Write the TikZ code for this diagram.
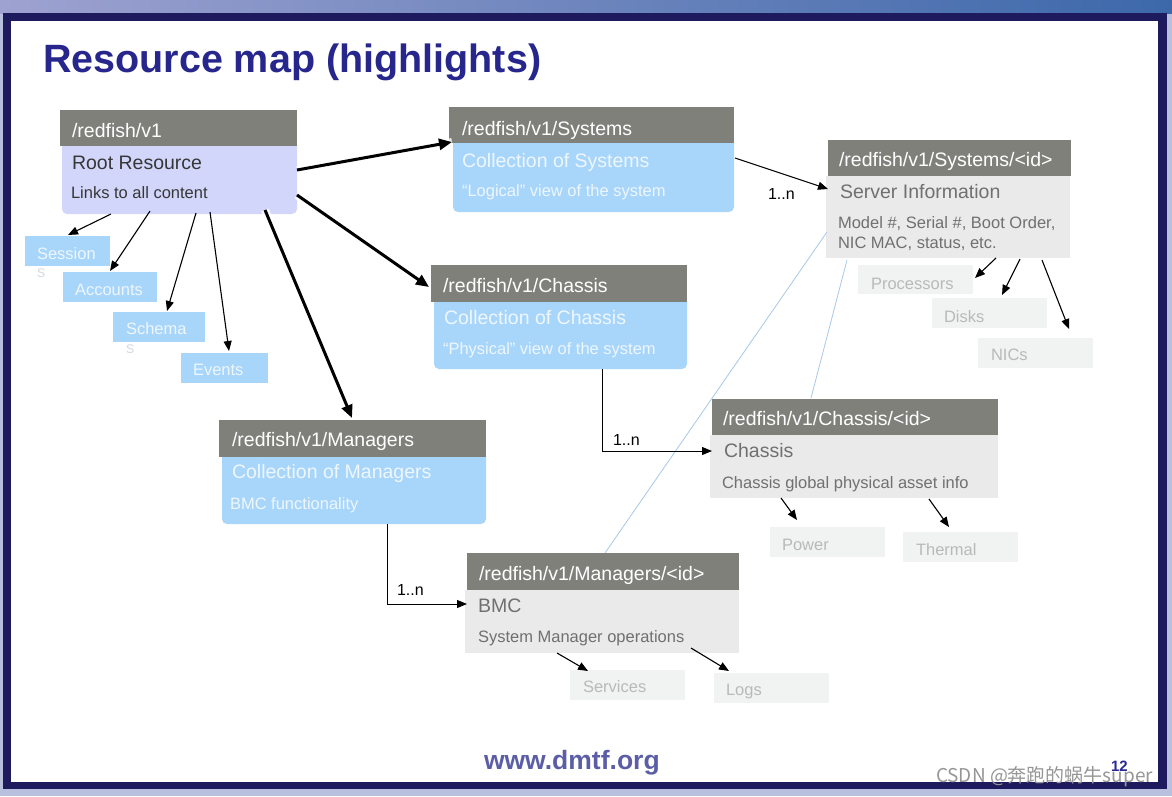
\documentclass[tikz,border=0pt]{standalone}
\usepackage{fontspec}
\setmainfont{Liberation Sans}
\newfontfamily\cjkfont{Noto Sans CJK SC}
\usetikzlibrary{arrows.meta}
\definecolor{hdrgrey}{RGB}{128,128,123}
\definecolor{lav}{RGB}{210,214,250}
\definecolor{lblue}{RGB}{168,214,251}
\definecolor{gbody}{RGB}{234,234,234}
\definecolor{gtext}{RGB}{112,112,112}
\definecolor{sbox}{RGB}{241,242,242}
\definecolor{stext}{RGB}{185,185,185}
\definecolor{navy}{RGB}{30,26,94}
\definecolor{titleblue}{RGB}{38,38,140}
\definecolor{dmtf}{RGB}{91,94,166}
\definecolor{linkblue}{RGB}{168,200,232}
\definecolor{roottext}{RGB}{55,55,55}
\definecolor{bluetext}{RGB}{238,246,254}
\definecolor{ghost}{RGB}{215,222,230}
\definecolor{bandL}{RGB}{158,162,208}
\definecolor{bandR}{RGB}{60,104,170}
\definecolor{bottomband}{RGB}{184,192,222}
\definecolor{pagenum}{RGB}{40,40,150}
\definecolor{wmark}{RGB}{150,150,150}
\newcommand\fHdr{\fontsize{19.5}{22}\selectfont}
\newcommand\fSmall{\fontsize{16.5}{19}\selectfont}
\newcommand\fLbl{\fontsize{16}{18}\selectfont}
\tikzset{
  hdr/.style={fill=hdrgrey, anchor=north west, inner sep=0pt, outer sep=0pt},
  blubody/.style={fill=lblue, rounded corners=5pt, anchor=north west, inner sep=0pt, outer sep=0pt},
  lavbody/.style={fill=lav, rounded corners=5pt, anchor=north west, inner sep=0pt, outer sep=0pt},
  grybody/.style={fill=gbody, anchor=north west, inner sep=0pt, outer sep=0pt},
  bluebox/.style={fill=lblue, anchor=north west, inner sep=0pt, outer sep=0pt},
  greybox/.style={fill=sbox, anchor=north west, inner sep=0pt, outer sep=0pt},
  txt/.style={anchor=base west, inner sep=0pt, outer sep=0pt},
  hdrtxt/.style={txt, text=white, font=\fHdr},
  bigarr/.style={line width=3pt, -{Triangle[length=13pt,width=11pt]},
     preaction={draw=white, line width=8pt, opacity=0.8, -}},
  thinarr/.style={line width=1.1pt, -{Triangle[length=10pt,width=8pt]}},
  linkarr/.style={line width=1pt, -{Triangle[length=10pt,width=8pt]}},
  faint/.style={draw=linkblue, line width=0.8pt}
}
\begin{document}
\begin{tikzpicture}[x=1pt,y=-1pt]
\useasboundingbox (0,0) rectangle (1172,796);
% background and frame
\fill[bottomband] (0,0) rectangle (1172,796);
\shade[left color=bandL, right color=bandR] (0,0) rectangle (1172,13);
\fill[navy] (3,13) rectangle (1167,789);
\fill[white] (11,21) rectangle (1158,782);

% title
\node[txt, text=titleblue, font=\bfseries\fontsize{39.5}{44}\selectfont] (title) at (43,72) {Resource map (highlights)};

% root card
\node[lavbody, minimum width=235pt, minimum height=74pt] (rootB) at (62,140) {};
\node[hdr, minimum width=237pt, minimum height=36pt] (rootH) at (60,110) {};
\node[hdrtxt] (rootT1) at (72,137) {/redfish/v1};
\node[txt, text=roottext, font=\fHdr] (rootT2) at (72,169) {Root Resource};
\node[txt, text=roottext, font=\fSmall] (rootT3) at (71,198) {Links to all content};

% systems card
\node[blubody, minimum width=281pt, minimum height=75pt] (sysB) at (453,137) {};
\node[hdr, minimum width=285pt, minimum height=36pt] (sysH) at (449,107) {};
\node[hdrtxt] (sysT1) at (462,135) {/redfish/v1/Systems};
\node[txt, text=bluetext, font=\fHdr] (sysT2) at (462,167) {Collection of Systems};
\node[txt, text=bluetext, font=\fSmall] (sysT3) at (462,196) {“Logical” view of the system};

% chassis card
\node[blubody, minimum width=253pt, minimum height=73pt] (chaB) at (434,296) {};
\node[hdr, minimum width=256pt, minimum height=37pt] (chaH) at (431,265) {};
\node[hdrtxt] (chaT1) at (443,292) {/redfish/v1/Chassis};
\node[txt, text=bluetext, font=\fHdr] (chaT2) at (444,324) {Collection of Chassis};
\node[txt, text=bluetext, font=\fSmall] (chaT3) at (443,354) {“Physical” view of the system};

% managers card
\node[blubody, minimum width=264pt, minimum height=73pt] (manB) at (222,451) {};
\node[hdr, minimum width=267pt, minimum height=37pt] (manH) at (219,420) {};
\node[hdrtxt] (manT1) at (232,446) {/redfish/v1/Managers};
\node[txt, text=bluetext, font=\fHdr] (manT2) at (232,478) {Collection of Managers};
\node[txt, text=bluetext, font=\fSmall] (manT3) at (230,509) {BMC functionality};

% systems/<id> card
\node[grybody, minimum width=244pt, minimum height=82pt] (sidB) at (826,176) {};
\node[hdr, minimum width=243pt, minimum height=36pt] (sidH) at (828,140) {};
\node[hdrtxt] (sidT1) at (839,166) {/redfish/v1/Systems/<id>};
\node[txt, text=gtext, font=\fHdr] (sidT2) at (840,198) {Server Information};
\node[txt, text=gtext, font=\fSmall] (sidT3) at (838,228) {Model \#, Serial \#, Boot Order,};
\node[txt, text=gtext, font=\fSmall] (sidT4) at (838,248) {NIC MAC, status, etc.};

% chassis/<id> card
\node[grybody, minimum width=288pt, minimum height=63pt] (cidB) at (710,435) {};
\node[hdr, minimum width=286pt, minimum height=36pt] (cidH) at (712,399) {};
\node[hdrtxt] (cidT1) at (723,425) {/redfish/v1/Chassis/<id>};
\node[txt, text=gtext, font=\fHdr] (cidT2) at (724,457) {Chassis};
\node[txt, text=gtext, font=\fSmall] (cidT3) at (722,488) {Chassis global physical asset info};

% managers/<id> card
\node[grybody, minimum width=274pt, minimum height=63pt] (midB) at (465,590) {};
\node[hdr, minimum width=272pt, minimum height=37pt] (midH) at (467,553) {};
\node[hdrtxt] (midT1) at (479,580) {/redfish/v1/Managers/<id>};
\node[txt, text=gtext, font=\fHdr] (midT2) at (478,612) {BMC};
\node[txt, text=gtext, font=\fSmall] (midT3) at (478,642) {System Manager operations};

% small blue boxes
\node[bluebox, minimum width=85pt, minimum height=30pt] (sess) at (25,236) {};
\node[txt, text=bluetext, font=\fSmall] (sessT) at (37,259) {Session};
\node[txt, text=ghost, font=\fSmall] (sessS) at (37,277) {s};
\node[bluebox, minimum width=94pt, minimum height=30pt] (acct) at (63,272) {};
\node[txt, text=bluetext, font=\fSmall] (acctT) at (75,295) {Accounts};
\node[bluebox, minimum width=92pt, minimum height=30pt] (schema) at (113,312) {};
\node[txt, text=bluetext, font=\fSmall] (schemaT) at (126,334) {Schema};
\node[txt, text=ghost, font=\fSmall] (schemaS) at (126,353) {s};
\node[bluebox, minimum width=87pt, minimum height=30pt] (events) at (181,353) {};
\node[txt, text=bluetext, font=\fSmall] (eventsT) at (193,375) {Events};

% small grey boxes
\node[greybox, minimum width=115pt, minimum height=29pt] (proc) at (858,265) {};
\node[txt, text=stext, font=\fSmall] (procT) at (871,289) {Processors};
\node[greybox, minimum width=115pt, minimum height=30pt] (disks) at (932,298) {};
\node[txt, text=stext, font=\fSmall] (disksT) at (944,322) {Disks};
\node[greybox, minimum width=115pt, minimum height=30pt] (nics) at (978,338) {};
\node[txt, text=stext, font=\fSmall] (nicsT) at (991,360) {NICs};
\node[greybox, minimum width=115pt, minimum height=30pt] (power) at (770,527) {};
\node[txt, text=stext, font=\fSmall] (powerT) at (782,550) {Power};
\node[greybox, minimum width=115pt, minimum height=30pt] (thermal) at (903,532) {};
\node[txt, text=stext, font=\fSmall] (thermalT) at (916,555) {Thermal};
\node[greybox, minimum width=115pt, minimum height=30pt] (services) at (570,670) {};
\node[txt, text=stext, font=\fSmall] (servicesT) at (583,692) {Services};
\node[greybox, minimum width=115pt, minimum height=30pt] (logs) at (714,673) {};
\node[txt, text=stext, font=\fSmall] (logsT) at (726,695) {Logs};

% faint link lines
\draw[faint] ([shift={(1,56)}]sidB.north west) -- ([shift={(138,0)}]midH.north west);
\draw[faint] ([shift={(21,84)}]sidB.north west) -- ([shift={(99,-1)}]cidH.north west);

% thick arrows from root
\draw[bigarr] ([shift={(0,30)}]rootB.north east) -- ([shift={(-1,5)}]sysB.north west);
\draw[bigarr] ([shift={(0,55)}]rootB.north east) -- ([shift={(-2,22)}]chaH.north west);
\draw[bigarr] ([shift={(203,70)}]rootB.north west) -- ([shift={(133,-2)}]manH.north west);

% thin arrows from root
\draw[thinarr] ([shift={(49,74)}]rootB.north west) -- ([shift={(43,-1)}]sess.north west);
\draw[thinarr] ([shift={(88,71)}]rootB.north west) -- ([shift={(47,-1)}]acct.north west);
\draw[thinarr] ([shift={(134,73)}]rootB.north west) -- ([shift={(54,-1)}]schema.north west);
\draw[thinarr] ([shift={(148,72)}]rootB.north west) -- ([shift={(48,-2)}]events.north west);

% 1..n links
\draw[linkarr] ([shift={(282,21)}]sysB.north west) -- ([shift={(2,13)}]sidB.north west);
\node[txt, font=\fLbl] (lbl1) at (768,199) {1..n};
\draw[linkarr] ([shift={(168,73)}]chaB.north west) |- ([shift={(2,16)}]cidB.north west);
\node[txt, font=\fLbl] (lbl2) at (613,445) {1..n};
\draw[linkarr] ([shift={(165,73)}]manB.north west) |- ([shift={(2,14)}]midB.north west);
\node[txt, font=\fLbl] (lbl3) at (397,595) {1..n};

% children of systems/<id>
\draw[thinarr] ([shift={(170,82)}]sidB.north west) -- ([shift={(117,13)}]proc.north west);
\draw[thinarr] ([shift={(194,83)}]sidB.north west) -- ([shift={(70,-3)}]disks.north west);
\draw[thinarr] ([shift={(216,84)}]sidB.north west) -- ([shift={(91,-9)}]nics.north west);
% children of chassis/<id>
\draw[thinarr] ([shift={(71,63)}]cidB.north west) -- ([shift={(27,-7)}]power.north west);
\draw[thinarr] ([shift={(219,64)}]cidB.north west) -- ([shift={(46,-5)}]thermal.north west);
% children of managers/<id>
\draw[thinarr] ([shift={(92,63)}]midB.north west) -- ([shift={(18,1)}]services.north west);
\draw[thinarr] ([shift={(226,58)}]midB.north west) -- ([shift={(15,-2)}]logs.north west);

% footer
\node[txt, text=dmtf, font=\bfseries\fontsize{26.5}{30}\selectfont] (url) at (484,769) {www.dmtf.org};
\node[txt, text=pagenum, font=\bfseries\fontsize{15}{17}\selectfont] (pnum) at (1111,771) {12};
\node[txt, text=wmark, font=\cjkfont\fontsize{19}{21}\selectfont] (wm) at (936,782) {CSDN @奔跑的蜗牛super};
\end{tikzpicture}
\end{document}
